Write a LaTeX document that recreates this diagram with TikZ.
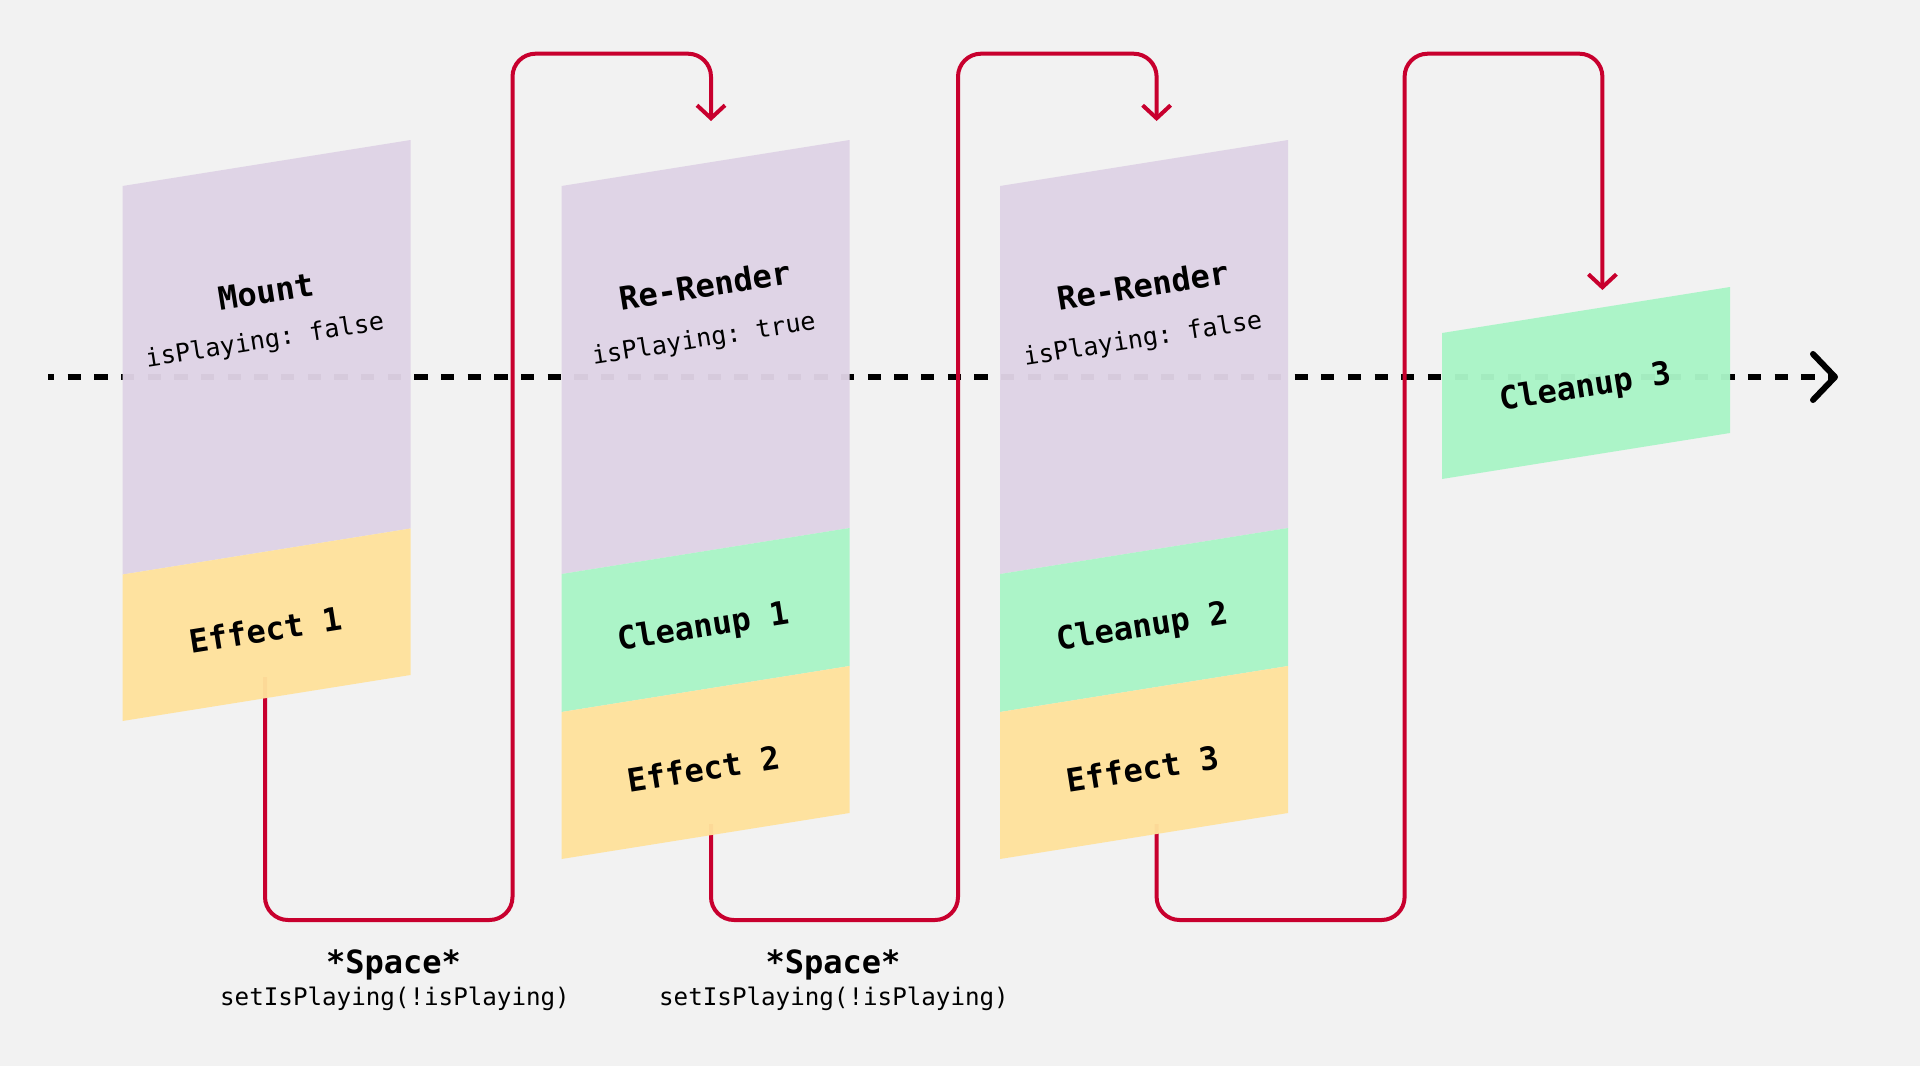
\documentclass[tikz,border=0pt]{standalone}
\usepackage{fontspec}
\setmonofont{DejaVu Sans Mono}
\usetikzlibrary{arrows.meta}
\definecolor{bgc}{HTML}{F2F2F2}
\definecolor{purp}{HTML}{DFD3E6}
\definecolor{yel}{HTML}{FFE29C}
\definecolor{grn}{HTML}{AAF5C7}
\definecolor{redc}{HTML}{C8002E}
\newcommand\slab[4]{\fill[#1] (#2,#3) -- (#2+288,#3-46) -- (#2+288,#4-46) -- (#2,#4) -- cycle;}
\tikzset{
  slabpurp/.style={fill=purp, fill opacity=0.96},
  slabyel/.style={fill=yel, fill opacity=0.96},
  slabgrn/.style={fill=grn, fill opacity=0.96},
  titletext/.style={font=\ttfamily\bfseries\fontsize{32}{38}\selectfont, rotate=9, inner sep=0pt},
  subtext/.style={font=\ttfamily\fontsize{25}{30}\selectfont, rotate=9, inner sep=0pt},
  keytext/.style={font=\ttfamily\bfseries\fontsize{32}{38}\selectfont, inner sep=0pt},
  calltext/.style={font=\ttfamily\fontsize{24.2}{29}\selectfont, inner sep=0pt},
  timeline/.style={draw=black, line width=6pt, dash pattern=on 13.3pt off 13.37pt, dash phase=7pt,
    -{Straight Barb[length=22pt,width=46pt,round]}},
  flow/.style={draw=redc, line width=4pt, rounded corners=23pt,
    -{Straight Barb[length=13pt,width=28pt]}},
}
\begin{document}
\begin{tikzpicture}[x=1pt,y=-1pt]
\useasboundingbox[fill=bgc] (0,0) rectangle (1920,1066);

% timeline
\coordinate (axstart) at (48,377);
\coordinate (axend) at (1838,377);
\draw[timeline] (axstart) -- (axend);

% connector end points
\coordinate (out1) at (265,677);
\coordinate (in2) at (711,121);
\coordinate (out2) at (711,824);
\coordinate (in3) at (1156.6,121);
\coordinate (out3) at (1156.6,824);
\coordinate (in4) at (1602.4,290);

\draw[flow] (out1) -- (265,920) -- (512.5,920) -- (512.5,53.7) -- (711,53.7) -- (in2);
\draw[flow] (out2) -- (711,920) -- (958,920) -- (958,53.7) -- (1156.6,53.7) -- (in3);
\draw[flow] (out3) -- (1156.6,920) -- (1404.6,920) -- (1404.6,53.7) -- (1602.4,53.7) -- (in4);

% column 1
\slab{slabpurp}{122.5}{186}{574.5}
\slab{slabyel}{122.5}{574.5}{721}
% column 2
\slab{slabpurp}{561.5}{186}{574}
\slab{slabgrn}{561.5}{574}{712}
\slab{slabyel}{561.5}{712}{859}
% column 3
\slab{slabpurp}{1000}{186}{574}
\slab{slabgrn}{1000}{574}{712}
\slab{slabyel}{1000}{712}{859}
% cleanup 3
\slab{slabgrn}{1442}{333}{479}

% texts
\node[titletext] (mount) at (266.5,291.5) {Mount};
\node[subtext] (mountstate) at (265,341.5) {isPlaying: false};
\node[titletext] (eff1) at (266,630) {Effect 1};

\node[titletext] (rr1) at (705,285) {Re-Render};
\node[subtext] (rr1state) at (704,340) {isPlaying: true};
\node[titletext] (cl1) at (704,628) {Cleanup 1};
\node[titletext] (eff2) at (704,769) {Effect 2};

\node[titletext] (rr2) at (1143.5,285) {Re-Render};
\node[subtext] (rr2state) at (1143,340) {isPlaying: false};
\node[titletext] (cl2) at (1143,628) {Cleanup 2};
\node[titletext] (eff3) at (1143,769) {Effect 3};

\node[titletext] (cl3) at (1586,388) {Cleanup 3};

\node[keytext] (key1) at (393.5,965) {*Space*};
\node[calltext] (call1) at (395,999) {setIsPlaying(!isPlaying)};
\node[keytext] (key2) at (833,965) {*Space*};
\node[calltext] (call2) at (834,999) {setIsPlaying(!isPlaying)};
\end{tikzpicture}
\end{document}
